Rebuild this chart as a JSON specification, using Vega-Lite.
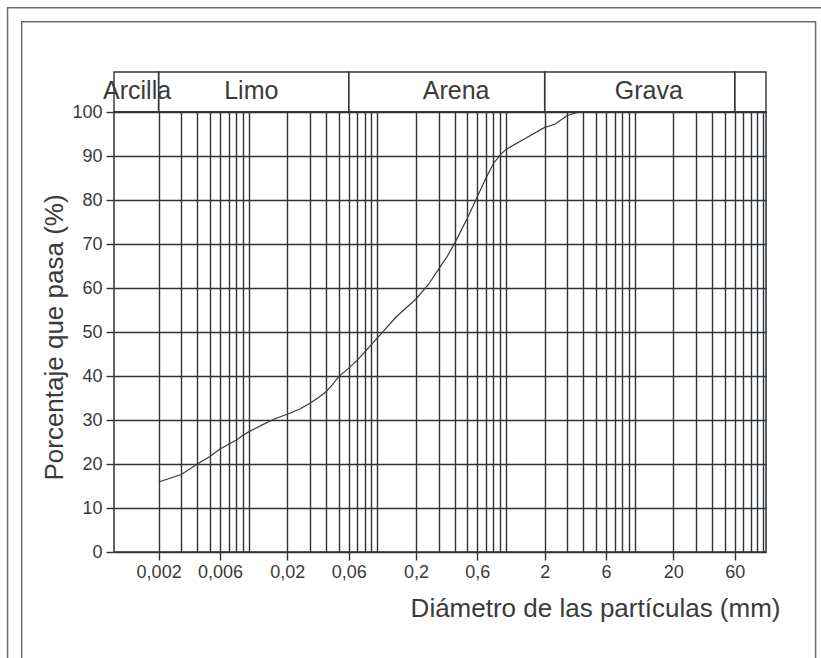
{
  "$schema": "https://vega.github.io/schema/vega-lite/v6.json",
  "width": 652,
  "height": 440,
  "autosize": "none",
  "padding": {"left": 114, "top": 112, "right": 55, "bottom": 106},
  "background": "white",
  "config": {
    "font": "Liberation Sans",
    "view": {"stroke": "#2f3337", "strokeWidth": 1.5},
    "axis": {
      "gridColor": "#2f3337", "gridWidth": 1.4, "gridOpacity": 1,
      "tickColor": "#2f3337", "tickWidth": 1.4, "domain": false,
      "labelColor": "#3a3a3a", "titleColor": "#3a3a3a",
      "labelFont": "Liberation Sans", "titleFont": "Liberation Sans", "titleFontWeight": "normal"
    }
  },
  "datasets": {
    "curva": [
      {"diametro": 0.002, "pasa": 15.9},
      {"diametro": 0.003, "pasa": 17.6},
      {"diametro": 0.004, "pasa": 20.0},
      {"diametro": 0.005, "pasa": 21.7},
      {"diametro": 0.006, "pasa": 23.4},
      {"diametro": 0.007, "pasa": 24.5},
      {"diametro": 0.008, "pasa": 25.4},
      {"diametro": 0.009, "pasa": 26.5},
      {"diametro": 0.01, "pasa": 27.3},
      {"diametro": 0.013, "pasa": 29.0},
      {"diametro": 0.016, "pasa": 30.3},
      {"diametro": 0.02, "pasa": 31.3},
      {"diametro": 0.025, "pasa": 32.5},
      {"diametro": 0.03, "pasa": 33.8},
      {"diametro": 0.035, "pasa": 35.1},
      {"diametro": 0.04, "pasa": 36.4},
      {"diametro": 0.045, "pasa": 38.1},
      {"diametro": 0.05, "pasa": 39.8},
      {"diametro": 0.06, "pasa": 41.8},
      {"diametro": 0.07, "pasa": 43.6},
      {"diametro": 0.08, "pasa": 45.5},
      {"diametro": 0.1, "pasa": 48.6},
      {"diametro": 0.14, "pasa": 53.4},
      {"diametro": 0.2, "pasa": 57.5},
      {"diametro": 0.25, "pasa": 60.8},
      {"diametro": 0.3, "pasa": 64.3},
      {"diametro": 0.35, "pasa": 67.2},
      {"diametro": 0.4, "pasa": 70.2},
      {"diametro": 0.5, "pasa": 75.8},
      {"diametro": 0.6, "pasa": 80.8},
      {"diametro": 0.7, "pasa": 85.0},
      {"diametro": 0.8, "pasa": 88.3},
      {"diametro": 0.9, "pasa": 90.2},
      {"diametro": 1.0, "pasa": 91.5},
      {"diametro": 1.4, "pasa": 93.9},
      {"diametro": 2.0, "pasa": 96.5},
      {"diametro": 2.4, "pasa": 97.2},
      {"diametro": 3.0, "pasa": 99.2},
      {"diametro": 3.6, "pasa": 99.9},
      {"diametro": 3.8, "pasa": 100}
    ],
    "clases": [
      {"clase": "Arcilla", "desde": 0.0009, "hasta": 0.002, "centro": 0.00136},
      {"clase": "Limo", "desde": 0.002, "hasta": 0.06, "centro": 0.0105},
      {"clase": "Arena", "desde": 0.06, "hasta": 2, "centro": 0.41},
      {"clase": "Grava", "desde": 2, "hasta": 60, "centro": 12.9},
      {"clase": "", "desde": 60, "hasta": 105, "centro": 80}
    ]
  },
  "layer": [
    {
      "data": {"values": [{}]},
      "mark": {"type": "rect", "fillOpacity": 0, "stroke": "#6a6d70", "strokeWidth": 1.5, "clip": false},
      "encoding": {
        "x": {"datum": 0.000134, "type": "quantitative", "scale": {"type": "log", "domain": [0.0009, 105], "nice": false}, "axis": null},
        "x2": {"datum": 400},
        "y": {"datum": 123.7, "type": "quantitative", "scale": {"domain": [0, 100], "nice": false}, "axis": null},
        "y2": {"datum": -30}
      }
    },
    {
      "data": {"values": [{}]},
      "mark": {"type": "rect", "fillOpacity": 0, "stroke": "#6a6d70", "strokeWidth": 1.5, "clip": false},
      "encoding": {
        "x": {"datum": 0.0001725, "type": "quantitative", "scale": {"type": "log", "domain": [0.0009, 105], "nice": false}, "axis": null},
        "x2": {"datum": 255},
        "y": {"datum": 120.5, "type": "quantitative", "scale": {"domain": [0, 100], "nice": false}, "axis": null},
        "y2": {"datum": -30}
      }
    },
    {
      "data": {"name": "clases"},
      "mark": {"type": "rect", "fillOpacity": 0, "stroke": "#2f3337", "strokeWidth": 1.4, "clip": false},
      "encoding": {
        "x": {"field": "desde", "type": "quantitative", "scale": {"type": "log", "domain": [0.0009, 105], "nice": false},
          "axis": {"orient": "top", "values": [0.002, 0.003, 0.004, 0.005, 0.006, 0.007, 0.008, 0.009, 0.01, 0.02, 0.03, 0.04, 0.05, 0.06, 0.07, 0.08, 0.09, 0.1, 0.2, 0.3, 0.4, 0.5, 0.6, 0.7, 0.8, 0.9, 1, 2, 3, 4, 5, 6, 7, 8, 9, 10, 20, 30, 40, 50, 60, 70, 80, 90, 100],
            "grid": true, "labels": false, "ticks": false, "domain": false, "title": null}},
        "x2": {"field": "hasta"},
        "y": {"datum": 100, "type": "quantitative", "scale": {"domain": [0, 100], "nice": false}, "axis": null},
        "y2": {"datum": 109.1}
      }
    },
    {
      "data": {"name": "clases"},
      "mark": {"type": "text", "fontSize": 25, "color": "#3a3a3a", "align": "center", "baseline": "alphabetic", "clip": false},
      "encoding": {
        "x": {"field": "centro", "type": "quantitative", "scale": {"type": "log", "domain": [0.0009, 105], "nice": false}, "axis": null},
        "y": {"datum": 102.9, "type": "quantitative", "scale": {"domain": [0, 100], "nice": false}, "axis": null},
        "text": {"field": "clase"}
      }
    },
    {
      "data": {"name": "curva"},
      "mark": {"type": "line", "color": "#3a3a3a", "strokeWidth": 1.2, "clip": false},
      "encoding": {
        "x": {"field": "diametro", "type": "quantitative", "scale": {"type": "log", "domain": [0.0009, 105], "nice": false},
          "axis": {"orient": "bottom", "values": [0.002, 0.006, 0.02, 0.06, 0.2, 0.6, 2, 6, 20, 60],
            "labelExpr": "replace(toString(datum.value), '.', ',')",
            "grid": false, "tickSize": 8, "labelPadding": 3, "labelFontSize": 18, "labelFlush": false, "labelOverlap": false,
            "title": "Diámetro de las partículas (mm)", "titleFontSize": 26,
            "titleX": 666, "titleY": 64, "titleAlign": "right", "titleBaseline": "alphabetic", "titleAnchor": "end"}},
        "y": {"field": "pasa", "type": "quantitative", "scale": {"domain": [0, 100], "nice": false},
          "axis": {"orient": "left", "values": [0, 10, 20, 30, 40, 50, 60, 70, 80, 90, 100], "grid": true, "tickSize": 8, "labelPadding": 4, "labelFontSize": 18, "labelFlush": false, "labelOverlap": false,
            "title": "Porcentaje que pasa (%)", "titleFontSize": 26,
            "titleX": -52, "titleY": 225, "titleAngle": 270, "titleAlign": "center", "titleBaseline": "alphabetic"}}
      }
    }
  ],
  "resolve": {"axis": {"x": "independent", "y": "independent"}}
}
